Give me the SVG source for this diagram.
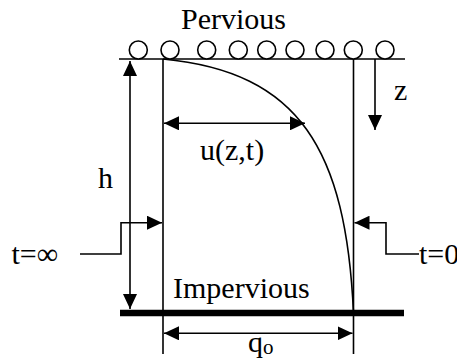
<svg xmlns="http://www.w3.org/2000/svg" width="457" height="360" viewBox="0 0 457 360">
<defs>
<style>
.ln{stroke:#000;stroke-width:1.6;fill:none}
.t{font-family:'Times New Roman','Liberation Serif',Times,'DejaVu Serif',serif;font-size:30px;fill:#000}
.c{stroke:#000;stroke-width:1.6;fill:#fff}
</style>
<marker id="ah" markerWidth="16" markerHeight="14" refX="15" refY="7" orient="auto" markerUnits="userSpaceOnUse">
<path d="M0,0 L15,7 L0,14 Z" fill="#000"/>
</marker>
<marker id="ahs" markerWidth="16" markerHeight="14" refX="15" refY="7" orient="auto-start-reverse" markerUnits="userSpaceOnUse">
<path d="M0,0 L15,7 L0,14 Z" fill="#000"/>
</marker>
</defs>
<g id="pervious">
<line class="ln" x1="119" y1="59" x2="405" y2="59"/>
<circle class="c" cx="138.3" cy="50" r="9"/>
<circle class="c" cx="170" cy="50" r="9"/>
<circle class="c" cx="206.7" cy="50" r="9"/>
<circle class="c" cx="238.3" cy="50" r="9"/>
<circle class="c" cx="266.7" cy="50" r="9"/>
<circle class="c" cx="295" cy="50" r="9"/>
<circle class="c" cx="325" cy="50" r="9"/>
<circle class="c" cx="353.3" cy="50" r="9"/>
<circle class="c" cx="385" cy="50" r="9"/>
<text class="t" x="181" y="29">Pervious</text>
</g>
<g id="impervious">
<line x1="120" y1="313" x2="404" y2="313" stroke="#000" stroke-width="6.5"/>
<text class="t" x="173" y="298">Impervious</text>
</g>
<g id="layer">
<line class="ln" x1="163" y1="59" x2="163" y2="354"/>
<line class="ln" x1="353.5" y1="59" x2="353.5" y2="354"/>
<path class="ln" d="M163,59 C300,72 346,150 353.5,313"/>
</g>
<g id="connectors">
<line class="ln" x1="130" y1="61" x2="130" y2="309" marker-start="url(#ahs)" marker-end="url(#ah)"/>
<line class="ln" x1="375" y1="59" x2="375" y2="130" marker-end="url(#ah)"/>
<line class="ln" x1="164" y1="123.3" x2="305" y2="123.3" marker-start="url(#ahs)" marker-end="url(#ah)"/>
<line class="ln" x1="164" y1="333.3" x2="352.5" y2="333.3" marker-start="url(#ahs)" marker-end="url(#ah)"/>
<polyline class="ln" points="80,254 121,254 121,222.7 162,222.7" marker-end="url(#ah)"/>
<polyline class="ln" points="419,254 386,254 386,222.7 354.5,222.7" marker-end="url(#ah)"/>
</g>
<g id="labels">
<text class="t" x="98" y="188">h</text>
<text class="t" x="394" y="99.5">z</text>
<text class="t" x="200" y="160">u(z,t)</text>
<text class="t" x="11.5" y="263.5">t=∞</text>
<text class="t" x="419" y="263.5">t=0</text>
<text class="t" x="248" y="352">q<tspan font-size="21" dy="2">o</tspan></text>
</g>
</svg>
